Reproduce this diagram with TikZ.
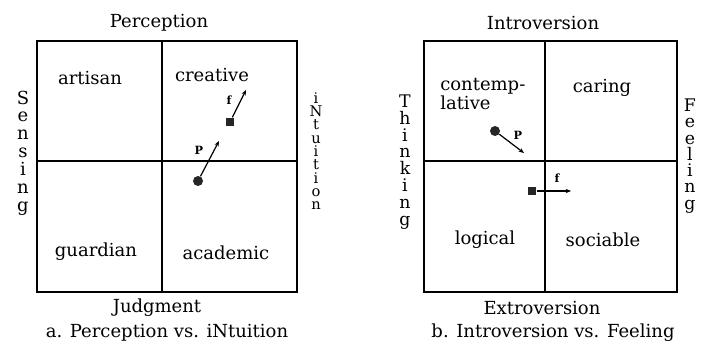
\documentclass[tikz,border=0pt]{standalone}
\usepackage{fontspec}
\setmainfont{DejaVu Serif}
\usetikzlibrary{arrows.meta, positioning}

\begin{document}
\begin{tikzpicture}[x=0.75pt, y=-0.75pt,
  frame/.style={line width=1.8pt},
  divider/.style={line width=1.2pt},
  quad/.style={font=\fontsize{13.5}{14}\selectfont, align=left, inner sep=0pt},
  axis/.style={font=\fontsize{13.5}{14}\selectfont, inner sep=0pt},
  vaxis/.style={align=center, inner sep=0pt},
  dot/.style={circle, fill=black!85, inner sep=0pt, minimum size=7.5pt},
  blob/.style={rectangle, fill=black!85, inner sep=0pt, minimum size=6.5pt},
  arrow/.style={-{Stealth[length=4pt, width=3.2pt]}, line width=0.9pt},
  tag/.style={font=\fontsize{8.5}{9}\selectfont\bfseries, inner sep=0pt},
]
\useasboundingbox (0,0) rectangle (702,346);

% a. perception vs. intuition
\draw[frame] (37,41) rectangle (297,292);
\draw[divider] (162,41) -- (162,292);
\draw[divider] (37,161) -- (297,161);

\node[axis] (perc)  at (159,23)  {Perception};
\node[axis] (judg)  at (157,308) {Judgment};
\node[axis] (capa)  at (167,333) {a. Perception vs. iNtuition};
\node[vaxis, font=\fontsize{13.5}{13.4}\selectfont] (sens) at (23,153)
  {S\\e\\n\\s\\i\\n\\g};
\node[vaxis, font=\fontsize{11}{10}\selectfont] (intu) at (316,151)
  {i\\N\\t\\u\\i\\t\\i\\o\\n};

\node[quad] (artisan)  at (90,78)   {artisan};
\node[quad] (creative) at (212,75)  {creative};
\node[quad] (guardian) at (96,252)  {guardian};
\node[quad] (academic) at (226,253) {academic};

\node[blob] (fa) at (230,122) {};
\coordinate (fatip) at (246,90);
\draw[arrow] (fa) -- (fatip);
\node[tag] (fla) at (229,100) {f};

\node[dot] (pa) at (198,181) {};
\coordinate (patip) at (219,141);
\draw[arrow] (pa) -- (patip);
\node[tag] (pla) at (199,150) {P};

% b. introversion vs. feeling
\draw[frame] (424,41) rectangle (677,292);
\draw[divider] (545,41) -- (545,292);
\draw[divider] (424,161) -- (677,161);

\node[axis] (intro) at (543,23)  {Introversion};
\node[axis] (extro) at (542,308) {Extroversion};
\node[axis] (capb)  at (553,333) {b. Introversion vs. Feeling};
\node[vaxis, font=\fontsize{13}{12.6}\selectfont] (think) at (405,162)
  {T\\h\\i\\n\\k\\i\\n\\g};
\node[vaxis, font=\fontsize{13}{12.2}\selectfont] (feel) at (690,156)
  {F\\e\\e\\l\\i\\n\\g};

\node[quad, anchor=west] (contemp) at (440,94) {contemp-\\lative};
\node[quad] (caring)   at (602,88)  {caring};
\node[quad] (logical)  at (485,240) {logical};
\node[quad] (sociable) at (603,240) {sociable};

\node[dot] (pb) at (495,131) {};
\coordinate (pbtip) at (524,153);
\draw[arrow] (pb) -- (pbtip);
\node[tag] (plb) at (518,135) {P};

\node[blob] (fb) at (532,191) {};
\coordinate (fbtip) at (571,191);
\draw[arrow] (fb) -- (fbtip);
\node[tag] (flb) at (557,178) {f};
\end{tikzpicture}
\end{document}
